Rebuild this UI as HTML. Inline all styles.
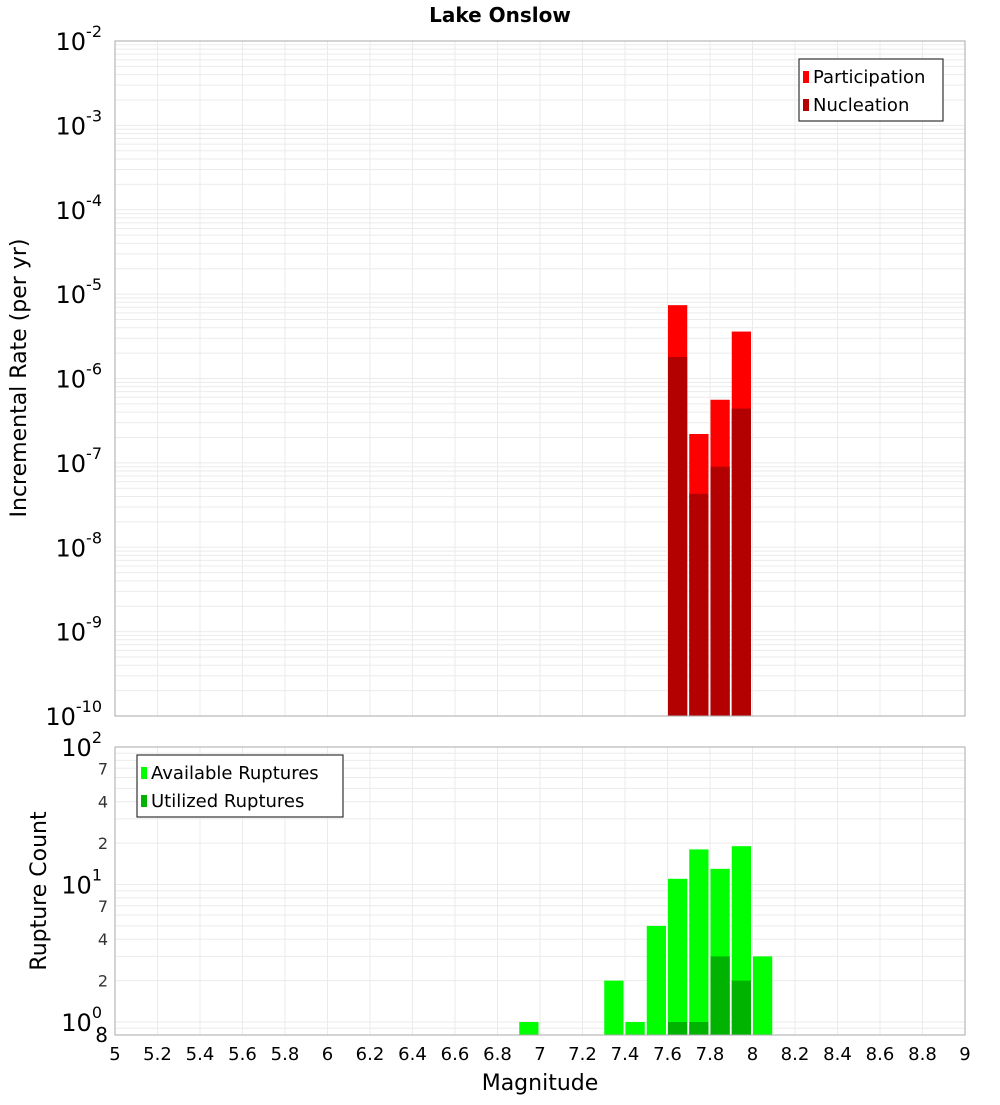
<!DOCTYPE html>
<html><head><meta charset="utf-8"><style>
body{margin:0;background:#fff;}
svg text{font-family:"DejaVu Sans","Liberation Sans",sans-serif;}
</style></head><body>
<svg id="c" width="1000" height="1100" xmlns="http://www.w3.org/2000/svg">
<text x="500" y="22" text-anchor="middle" font-size="20" font-weight="bold">Lake Onslow</text>
<g id="topplot"></g>
<g id="botplot"></g>
<text transform="translate(26,378) rotate(-90)" text-anchor="middle" font-size="22">Incremental Rate (per yr)</text>
<text transform="translate(46,891) rotate(-90)" text-anchor="middle" font-size="22">Rupture Count</text>
<text x="540" y="1090" text-anchor="middle" font-size="22">Magnitude</text>
</svg>
<script>
const mags = [7.65, 7.75, 7.85, 7.95];
const participation = [7.4e-6, 2.2e-7, 5.6e-7, 3.6e-6];
const nucleation = [1.8e-6, 4.3e-8, 9e-8, 4.4e-7];
const countMags = [6.95, 7.35, 7.45, 7.55, 7.65, 7.75, 7.85, 7.95, 8.05];
const available = [1, 2, 1, 5, 11, 18, 13, 19, 3];
const utilMags = [7.65, 7.75, 7.85, 7.95];
const utilized = [1, 1, 3, 2];
const xTicks = [5,5.2,5.4,5.6,5.8,6,6.2,6.4,6.6,6.8,7,7.2,7.4,7.6,7.8,8,8.2,8.4,8.6,8.8,9];
const rateExps = [-2,-3,-4,-5,-6,-7,-8,-9,-10];
const countMinor = [7,4,2];

const NS='http://www.w3.org/2000/svg';
const L=115,R=965;
const X=m=>L+(m-5)*(R-L)/4;
const TT=41,TB=716;
const Yt=v=>TT+(-2-Math.log10(v))*(TB-TT)/8;
const BT=747,BB=1035;
const Yb=v=>1022-Math.log10(v)*137.5;
function mk(p,tag,a,txt){const e=document.createElementNS(NS,tag);for(const k in a)e.setAttribute(k,a[k]);if(txt!=null)e.textContent=txt;p.appendChild(e);return e;}
const topG=document.getElementById('topplot'),botG=document.getElementById('botplot');

for(let d=-10;d<-2;d++)for(let k=1;k<10;k++){const y=Yt(k*Math.pow(10,d));
 const g=mk(topG,'line',{x1:L,x2:R,y1:y,y2:y,stroke:'#ebebeb','stroke-width':1});
 
 }
xTicks.forEach(t=>{[[topG,TT,TB],[botG,BT,BB]].forEach(([p,a,b])=>{const g=mk(p,'line',{x1:X(t),x2:X(t),y1:a,y2:b,stroke:'#ebebeb'});
 
 });});
for(let d=-1;d<2;d++)for(let k=1;k<10;k++){const v=k*Math.pow(10,d);const y=Yb(v);if(y>BB||y<BT)continue;
 const g=mk(botG,'line',{x1:L,x2:R,y1:y,y2:y,stroke:'#ebebeb'});
 
 }

const bw=0.1;
mags.forEach((m,i)=>{
 const x=X(m-bw/2)+0.5,w=X(m+bw/2)-X(m-bw/2)-2;
 const b=mk(topG,'rect',{x:x,y:Yt(participation[i]),width:w,height:TB-Yt(participation[i]),fill:'#ff0000'});
 
 
 const n=mk(topG,'rect',{x:x,y:Yt(nucleation[i]),width:w,height:TB-Yt(nucleation[i]),fill:'#b30000'});
 
 
});
countMags.forEach((m,i)=>{
 const x=X(m-bw/2)+0.5,w=X(m+bw/2)-X(m-bw/2)-2;
 const b=mk(botG,'rect',{x:x,y:Yb(available[i]),width:w,height:BB-Yb(available[i]),fill:'#00ff00'});
 
 
});
utilMags.forEach((m,i)=>{
 const x=X(m-bw/2)+0.5,w=X(m+bw/2)-X(m-bw/2)-2;
 const b=mk(botG,'rect',{x:x,y:Yb(utilized[i]),width:w,height:BB-Yb(utilized[i]),fill:'#00b300'});
 
 
});
[[topG,TT,TB],[botG,BT,BB]].forEach(([p,a,b])=>{const f=mk(p,'rect',{x:L,y:a,width:R-L,height:b-a,fill:'none',stroke:'#aaaaaa'});
 
 });

rateExps.forEach(e=>{const y=Yt(Math.pow(10,e));
 const t=mk(topG,'text',{x:102,y:y+9,'text-anchor':'end','font-size':24});
 
 
 mk(t,'tspan',{},'10');
 mk(t,'tspan',{dy:-13,'font-size':16},String(e));});
[0,1,2].forEach(e=>{const y=Yb(Math.pow(10,e));
 const t=mk(botG,'text',{x:102,y:y+9,'text-anchor':'end','font-size':24});
 
 
 mk(t,'tspan',{},'10');
 mk(t,'tspan',{dy:-13,'font-size':16},String(e));});
[1,10].forEach(base=>countMinor.forEach(k=>{const y=Yb(k*base);
 const t=mk(botG,'text',{x:108,y:y+6,'text-anchor':'end','font-size':16,fill:'#333'},String(k));
 
 }));
{const t=mk(botG,'text',{x:108,y:BB+7,'text-anchor':'end','font-size':20},'8');
 
 }
xTicks.forEach(v=>{const t=mk(botG,'text',{x:X(v),y:1060,'text-anchor':'middle','font-size':18},String(v));
 
 });

function legend(p,x,y,w,items,name){const g=mk(p,'g',{});
 
 
 mk(g,'rect',{x:x,y:y,width:w,height:items.length*28+6,fill:'#fff',stroke:'#333','stroke-width':1.2});
 items.forEach((it,i)=>{mk(g,'rect',{x:x+4,y:y+12+i*28,width:6,height:12,fill:it[1]});
  mk(g,'text',{x:x+14,y:y+24+i*28,'font-size':18},it[0]);});}
legend(topG,799,59,144,[['Participation','#ff0000'],['Nucleation','#b30000']],'legend-rate');
legend(botG,137,755,206,[['Available Ruptures','#00ff00'],['Utilized Ruptures','#00b300']],'legend-count');
</script>
</body></html>
